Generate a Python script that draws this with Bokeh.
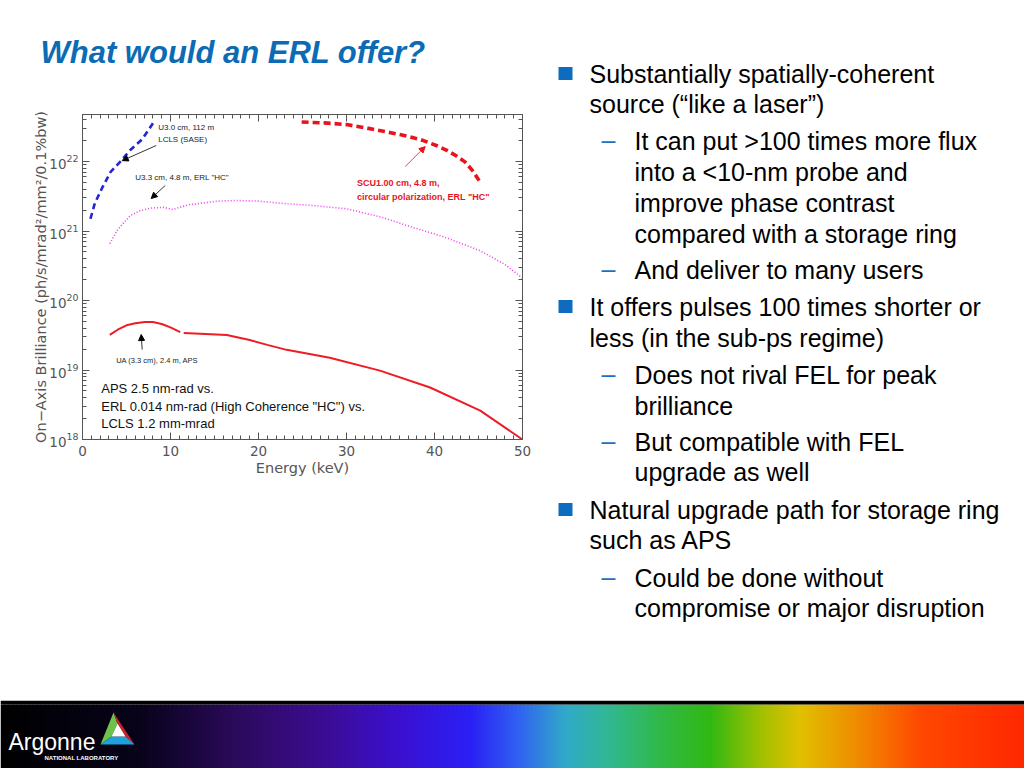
import numpy as np
from bokeh.plotting import figure
from bokeh.layouts import row, column
from bokeh.models import (Range1d, LinearAxis, LogAxis, SingleIntervalTicker, FixedTicker,
                          LogTickFormatter, Label, Arrow, NormalHead)
from bokeh.embed import file_html
from bokeh.resources import INLINE

# ---------------- chart data (energy in keV, on-axis brilliance) ----------------
lcls_energy = [0.9, 1.4, 2.2, 3.2, 4.3, 5.4, 6.8, 8.1]
lcls_brilliance = [1.5e21, 2.5e21, 4.1e21, 7.1e21, 1.0e22, 1.45e22, 2.1e22, 3.7e22]

erl_energy = [3.1, 4.0, 5.4, 6.5, 7.7, 9.2, 10.3, 11.0, 12.2, 15.3, 17.5, 20.0, 22.5,
              26.0, 30.0, 34.0, 37.6, 41.0, 45.2, 48.0, 50.0]
erl_brilliance = [6.6e20, 1.05e21, 1.66e21, 1.95e21, 2.14e21, 2.19e21, 2.04e21, 2.19e21,
                  2.4e21, 2.69e21, 2.75e21, 2.69e21, 2.51e21, 2.34e21, 2.09e21, 1.58e21,
                  1.12e21, 8.3e20, 5.2e20, 3.3e20, 2.1e20]

scu_energy = [24.9, 27.5, 30.0, 32.5, 35.0, 37.0, 38.75, 40.2, 41.4, 42.5, 43.5, 44.4, 45.2]
scu_brilliance = [3.7e22, 3.6e22, 3.4e22, 3.0e22, 2.6e22, 2.3e22, 2.0e22, 1.7e22, 1.45e22,
                  1.2e22, 9.8e21, 7.2e21, 5.0e21]

ua_low_energy = [3.1, 4.0, 5.0, 6.0, 7.1, 8.0, 9.0, 10.0, 11.1]
ua_low_brilliance = [3.2e19, 3.8e19, 4.4e19, 4.7e19, 4.9e19, 4.9e19, 4.6e19, 4.1e19, 3.5e19]

ua_high_energy = [11.5, 14.0, 16.4, 19.0, 21.0, 23.2, 28.1, 33.8, 39.5, 45.2, 50.0]
ua_high_brilliance = [3.4e19, 3.3e19, 3.2e19, 2.7e19, 2.3e19, 1.95e19, 1.5e19, 9.8e18,
                      5.6e18, 2.6e18, 1.0e18]

y_ticks = [1e18, 1e19, 1e20, 1e21, 1e22]

bullet_lines = [
    (1, "Substantially spatially-coherent", True),
    (1, "source (\u201clike a laser\u201d)", False),
    (2, "It can put >100 times more flux", True),
    (2, "into a <10-nm probe and", False),
    (2, "improve phase contrast", False),
    (2, "compared with a storage ring", False),
    (2, "And deliver to many users", True),
    (1, "It offers pulses 100 times shorter or", True),
    (1, "less (in the sub-ps regime)", False),
    (2, "Does not rival FEL for peak", True),
    (2, "brilliance", False),
    (2, "But compatible with FEL", True),
    (2, "upgrade as well", False),
    (1, "Natural upgrade path for storage ring", True),
    (1, "such as APS", False),
    (2, "Could be done without", True),
    (2, "compromise or major disruption", False),
]
bullet_centers = [73, 103, 140, 171, 202, 233, 269, 306, 337, 374, 405, 441, 471, 509, 539, 577, 607]

GRAY = "#555555"
BLUE_T = "#0b6cb5"
LEFT_W = 545

def blank(width, height, x0, x1, y0, y1):
    f = figure(width=width, height=height, output_backend="svg", toolbar_location=None,
               x_range=Range1d(x0, x1), y_range=Range1d(y1, y0),
               x_axis_type=None, y_axis_type=None, min_border=0)
    f.outline_line_color = None
    f.background_fill_color = "white"
    f.border_fill_color = "white"
    return f

def tlabel(f, X, Y, text, size, color="black", style="normal", font="Liberation Sans"):
    f.add_layout(Label(x=X, y=Y, text=text, text_font=font, text_font_size=size,
                       text_color=color, text_font_style=style, text_baseline="middle",
                       text_align="left"))

# ---------------- title ----------------
title_fig = blank(LEFT_W, 100, 0, LEFT_W, 0, 100)
tlabel(title_fig, 40, 52, "What would an ERL offer?", "31px", color=BLUE_T, style="bold italic")

# ---------------- chart ----------------
p = figure(width=LEFT_W, height=600, output_backend="svg", toolbar_location=None,
           x_range=Range1d(0, 50), y_range=Range1d(1e18, 4.75e22), y_axis_type="log",
           min_border_left=82, min_border_right=LEFT_W - 522, min_border_top=14,
           min_border_bottom=700 - 439)
p.xgrid.visible = False
p.ygrid.visible = False
p.outline_line_color = GRAY
p.outline_line_width = 1
p.background_fill_color = "white"
p.border_fill_color = "white"

yminor = [m * 10.0 ** d for d in range(18, 23) for m in range(2, 10)]

def style(ax, labels=True):
    ax.major_tick_in = 7
    ax.major_tick_out = 0
    ax.minor_tick_in = 4
    ax.minor_tick_out = 0
    ax.axis_line_color = GRAY
    ax.major_tick_line_color = GRAY
    ax.minor_tick_line_color = GRAY
    ax.major_label_text_font = "DejaVu Sans"
    ax.major_label_text_font_size = "13.5px" if labels else "0px"
    ax.major_label_text_color = GRAY if labels else None
    if not labels:
        ax.major_label_standoff = 0
    ax.axis_label_text_font = "DejaVu Sans"
    ax.axis_label_text_font_size = "14.5px"
    ax.axis_label_text_font_style = "normal"
    ax.axis_label_text_color = GRAY

xa = p.xaxis[0]
xa.ticker = SingleIntervalTicker(interval=10, num_minor_ticks=10)
style(xa)
xa.axis_label = "Energy (keV)"
xa.major_label_standoff = 6
xa.axis_label_standoff = 1

ya = p.yaxis[0]
ya.ticker = FixedTicker(ticks=y_ticks, minor_ticks=yminor)
ya.formatter = LogTickFormatter()
style(ya)
ya.axis_label = "On\u2212Axis Brilliance (ph/s/mrad\u00b2/mm\u00b2/0.1%bw)"
ya.major_label_standoff = 4
ya.axis_label_standoff = -3

top_ax = LinearAxis(ticker=SingleIntervalTicker(interval=10, num_minor_ticks=10))
style(top_ax, labels=False)
p.add_layout(top_ax, "above")
right_ax = LogAxis(ticker=FixedTicker(ticks=y_ticks, minor_ticks=yminor))
style(right_ax, labels=False)
p.add_layout(right_ax, "right")

p.line(lcls_energy, lcls_brilliance, line_color="#2424d8", line_width=2.6, line_dash="6 4")
p.line(erl_energy, erl_brilliance, line_color="#f03cf0", line_width=1.6, line_dash="1 2")
p.line(scu_energy, scu_brilliance, line_color="#e8141c", line_width=3.6, line_dash="7 4")
p.line(ua_low_energy, ua_low_brilliance, line_color="#ee1c25", line_width=2)
p.line(ua_high_energy, ua_high_brilliance, line_color="#ee1c25", line_width=2)

def clabel(x, y, text, size="8px", color="#222222", bold=False):
    p.add_layout(Label(x=x, y=y, text=text, text_font="Liberation Sans",
                       text_font_size=size, text_color=color,
                       text_font_style="bold" if bold else "normal",
                       text_baseline="middle", text_align="left"))

def carrow(x0, y0, x1, y1, color="black"):
    p.add_layout(Arrow(x_start=x0, y_start=y0, x_end=x1, y_end=y1,
                       line_color=color, line_width=0.8,
                       end=NormalHead(size=6, fill_color=color, line_color=color)))

clabel(8.6, 3.09e22, "U3.0 cm, 112 m")
clabel(8.6, 2.08e22, "LCLS (SASE)")
carrow(8.38, 1.70e22, 4.51, 1.03e22)
clabel(5.99, 5.89e21, "U3.3 cm, 4.8 m, ERL \"HC\"")
carrow(9.40, 4.52e21, 7.81, 2.94e21)
clabel(31.2, 4.99e21, "SCU1.00 cm, 4.8 m,", size="9px", color="#e8141c", bold=True)
clabel(31.2, 3.13e21, "circular polarization, ERL \"HC\"", size="9px", color="#e8141c", bold=True)
carrow(36.67, 8.47e21, 38.94, 1.64e22, color="#e8141c")
clabel(3.83, 1.37e19, "UA (3.3 cm), 2.4 m, APS", size="7.5px")
carrow(6.78, 1.97e19, 6.67, 3.24e19)
clabel(2.13, 5.42e18, "APS 2.5 nm-rad vs.", size="13px", color="#111111")
clabel(2.13, 2.98e18, "ERL 0.014 nm-rad (High Coherence \"HC\") vs.", size="13px", color="#111111")
clabel(2.13, 1.70e18, "LCLS 1.2 mm-mrad", size="13px", color="#111111")

# ---------------- bullets ----------------
bul = blank(1024 - LEFT_W, 700, LEFT_W, 1024, 0, 700)
sq_left, sq_right, sq_top, sq_bottom = [], [], [], []
for (lvl, text, mark), cy in zip(bullet_lines, bullet_centers):
    if lvl == 1:
        tlabel(bul, 589, cy, text, "25px")
        if mark:
            sq_left.append(558); sq_right.append(572)
            sq_top.append(cy - 6.5); sq_bottom.append(cy + 6.5)
    else:
        tlabel(bul, 634, cy, text, "25px")
        if mark:
            tlabel(bul, 601, cy - 1, "\u2013", "25px", color="#1f6fc0")
bul.quad(left=sq_left, right=sq_right, top=sq_top, bottom=sq_bottom,
         fill_color="#0e6cc0", line_color=None)

# ---------------- footer ----------------
foot = blank(1024, 68, 0, 1024, 700, 768)
stop_x = [0, 140, 240, 320, 400, 470, 520, 565, 610, 660, 710, 760, 800, 860, 920, 1024]
stop_c = ["#000000", "#08031a", "#2c0a5e", "#3b0c90", "#3a10d0", "#2a20f5", "#3064f0",
          "#30aac8", "#30b890", "#30b848", "#30b812", "#a0c000", "#e0c000", "#f08800",
          "#ff4800", "#ff2800"]
rgb = np.array([[int(c[i:i + 2], 16) for i in (1, 3, 5)] for c in stop_c], dtype=float)
step = 4
lefts = list(range(0, 1024, step))
cols = []
for x0 in lefts:
    xm = x0 + step / 2
    col = [int(round(np.interp(xm, stop_x, rgb[:, k]))) for k in range(3)]
    cols.append("#%02x%02x%02x" % tuple(col))
foot.quad(left=lefts, right=[x + step + 0.5 for x in lefts], top=704, bottom=768,
          fill_color=cols, line_color=None)
foot.quad(left=0, right=1024, top=700, bottom=704, fill_color="black", line_color=None)

tlabel(foot, 8, 741, "Argonne", "23px", color="white")
tlabel(foot, 44, 757, "NATIONAL LABORATORY", "6px", color="white", style="bold")

T, L, R = (113, 712), (100, 744), (134, 744)
a, b, c = (117, 723), (111, 736), (125, 736)
polys = [[T, a, b, L], [T, R, c, a], [L, b, c, R], [a, b, c]]
foot.patches([[q[0] for q in pl] for pl in polys], [[q[1] for q in pl] for pl in polys],
             fill_color=["#6cc24a", "#c8202c", "#1ea0dc", "#ffffff"], line_color=None)

layout = column(row(column(row(title_fig), p), bul), foot)
open("out.html", "w").write(file_html(layout, INLINE))
